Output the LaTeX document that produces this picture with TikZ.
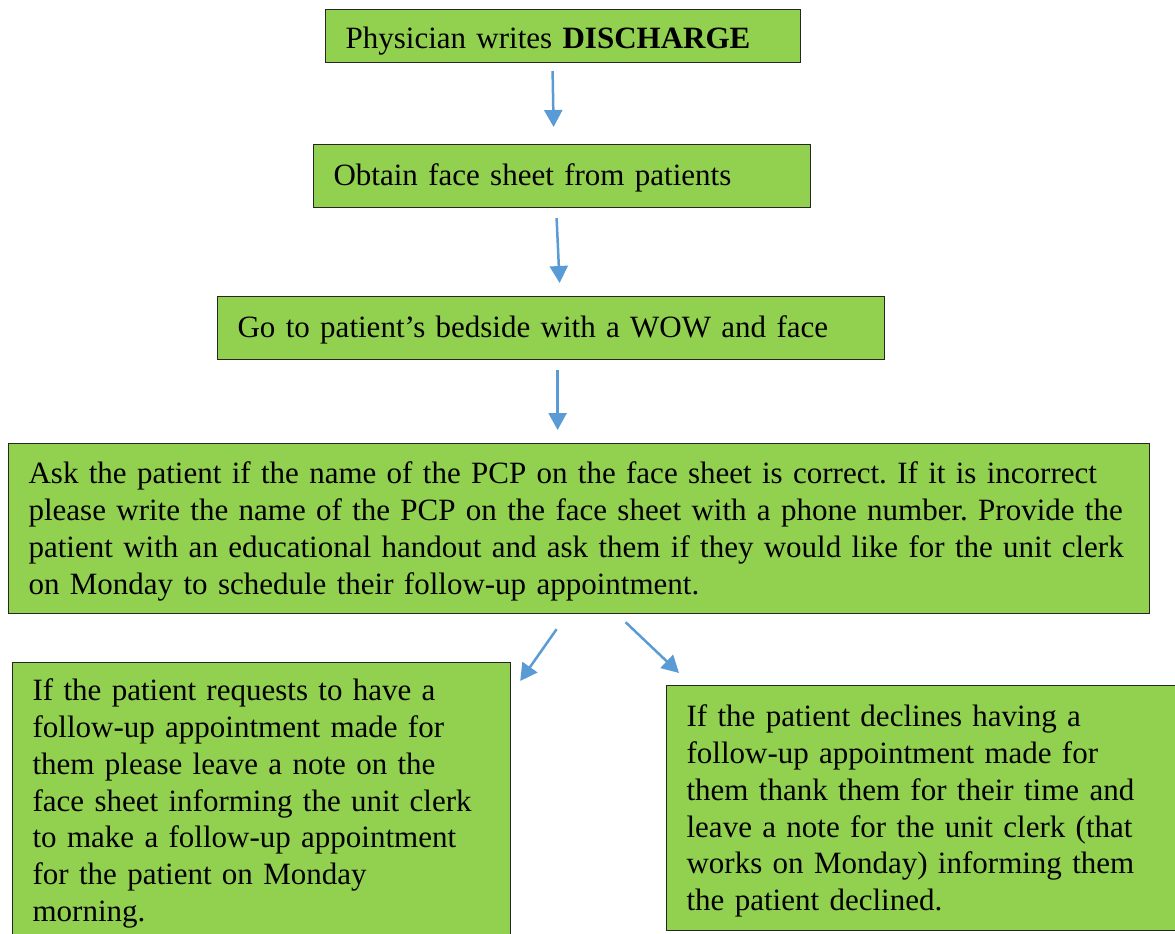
\documentclass[tikz,border=0pt]{standalone}
\usepackage{fontspec}
\setmainfont{Liberation Serif}
\usetikzlibrary{arrows.meta}
\definecolor{boxgreen}{HTML}{92D050}
\definecolor{flowblue}{HTML}{5B9BD5}
\frenchspacing
\begin{document}
\begin{tikzpicture}[x=1pt,y=-1pt,
  stepbox/.style={draw=black!85,line width=1.2pt,fill=boxgreen,anchor=north west,
    inner xsep=20pt,inner ysep=0pt,align=left,font=\fontsize{31}{36.8}\selectfont},
  flow/.style={draw=flowblue,line width=2.5pt,-{Triangle[width=18pt,length=17pt]}}]
\useasboundingbox (0,0) rectangle (1175,934);
\node[stepbox,text width=435pt,text height=39pt,text depth=14pt] (discharge) at (325,9) {Physician writes \textbf{DISCHARGE}};
\node[stepbox,text width=457pt,text height=41pt,text depth=22pt] (facesheet) at (313,144) {Obtain face sheet from patients};
\node[stepbox,text width=627pt,text height=41pt,text depth=22pt] (bedside) at (217,296) {Go to patient’s bedside with a WOW and face};
\node[stepbox,text width=1101pt,text height=40pt,text depth=130pt] (askpcp) at (8,443) {Ask the patient if the name of the PCP on the face sheet is correct. If it is incorrect\\
please write the name of the PCP on the face sheet with a phone number. Provide the\\
patient with an educational handout and ask them if they would like for the unit clerk\\
on Monday to schedule their follow-up appointment.};
\node[stepbox,text width=458pt,text height=38pt,text depth=260pt] (requests) at (12,662) {If the patient requests to have a\\
follow-up appointment made for\\
them please leave a note on the\\
face sheet informing the unit clerk\\
to make a follow-up appointment\\
for the patient on Monday\\
morning.};
\node[stepbox,text width=489pt,text height=41pt,text depth=204pt] (declines) at (666,685) {If the patient declines having a\\
follow-up appointment made for\\
them thank them for their time and\\
leave a note for the unit clerk (that\\
works on Monday) informing them\\
the patient declined.};
% arrows between the steps
\draw[flow] ([shift={(-10.5,8)}]discharge.south) -- ([shift={(-8.5,-17)}]facesheet.north);
\draw[flow] ([shift={(-5.5,10)}]facesheet.south) -- ([shift={(8.5,-13)}]bedside.north);
\draw[flow] ([shift={(6.5,10)}]bedside.south) -- ([shift={(-21.5,-13)}]askpcp.north);
\draw[flow] ([shift={(-22.5,15)}]askpcp.south) -- ([shift={(9,19)}]requests.north east);
\draw[flow] ([shift={(46.5,8)}]askpcp.south) -- ([shift={(13,-12)}]declines.north west);
\end{tikzpicture}
\end{document}
